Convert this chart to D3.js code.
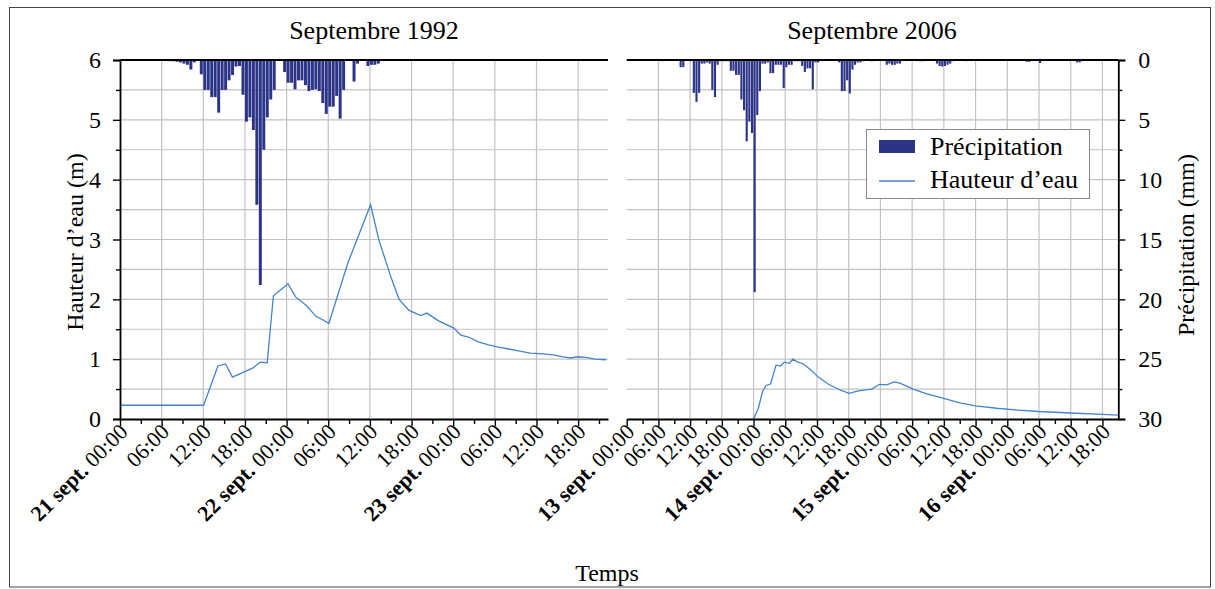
<!DOCTYPE html>
<html>
<head>
<meta charset="utf-8">
<script src="https://cdn.jsdelivr.net/npm/d3@7"></script>
<style>
  body { margin: 0; background: #fff; }
  svg { display: block; }
  text { font-family: "Liberation Serif", "Times New Roman", serif; fill: #000; }
</style>
</head>
<body>
<svg id="chart" width="1215" height="589"></svg>
<script>
// ---------------- DATA ----------------
const panelTitles = ["Septembre 1992", "Septembre 2006"];
const levelTicks = [0, 1, 2, 3, 4, 5, 6];
const rainTicks = [0, 5, 10, 15, 20, 25, 30];

// 1992 : 30-min precipitation (mm), first bin starts 21 sept. 07:00
const rain1992Start = "1992-09-21T07:00:00Z";
const rain1992 = [
  0.1, 0.1, 0.15, 0.2, 0.3, 0.4, 0.8, 0.2, 0, 1.2,
  2.5, 2.5, 3.1, 3.1, 4.4, 2.5, 2.5, 1.7, 1.25, 0.55,
  0.5, 2.9, 5.15, 4.8, 5.85, 12.1, 18.8, 7.5, 4.8, 3.3,
  2.5, 0, 0, 1.0, 1.9, 1.9, 2.45, 1.7, 1.7, 2.1,
  2.6, 2.5, 2.45, 2.6, 3.6, 4.5, 3.9, 3.9, 3.0, 4.9,
  2.5, 0, 0, 1.8, 0.3, 0, 0, 0.5, 0.4, 0.4, 0.3
];
// 1992 : water level (m), hours after 21 sept. 00:00
const level1992Hours = [0, 12.05, 14.1, 15.2, 16.2, 19.1, 20.2, 21.2, 22.1, 24.2, 25.3, 26.8, 28.2, 30.1, 32.8, 36.1,
  37.3, 39.0, 40.2, 41.6, 43.3, 44.2, 45.9, 48.1, 49.1, 50.2, 51.6, 53.1, 54.5, 56.0, 57.4, 59.1, 61.0, 62.4,
  63.8, 64.9, 66.0, 67.1, 68.4, 70.0];
const level1992 = [0.23, 0.23, 0.886, 0.92, 0.70, 0.85, 0.95, 0.94, 2.06, 2.26, 2.04, 1.9, 1.72, 1.6, 2.6, 3.58,
  2.99, 2.38, 2.0, 1.82, 1.73, 1.77, 1.64, 1.52, 1.40, 1.37, 1.29, 1.24, 1.2, 1.17, 1.14, 1.1, 1.09, 1.07,
  1.04, 1.02, 1.04, 1.03, 1.0, 0.99];

// 2006 : 30-min precipitation (mm), first bin starts 13 sept. 06:30
const rain2006Start = "2006-09-13T06:30:00Z";
const rain2006 = [
  0.1, 0, 0, 0, 0, 0, 0, 0.6, 0.6, 0, 0, 0,
  2.75, 3.5, 2.75, 0.3, 0.3, 0.2, 0.3, 2.5, 3.1, 0.4,
  0.1, 0.1, 0.1, 0.1, 0.9, 0.9, 1.25, 1.25, 3.3, 4.2,
  6.8, 5.15, 6.1, 19.4, 4.6, 2.6, 0.3, 0.3, 0.2, 1.1,
  1.1, 0.4, 0.4, 0.4, 2.35, 0.6, 0.4, 0.4, 0.1, 0.1,
  0.1, 0.5, 1.0, 0.7, 0.7, 2.45, 0.2, 0.2, 0, 0.05,
  0, 0, 0.05, 0, 0, 0.2, 2.6, 2.6, 1.7, 2.8,
  0.8, 0.4, 0.2, 0.2, 0.1, 0, 0, 0.1, 0.1, 0,
  0, 0, 0, 0.4, 0.3, 0.4, 0.4, 0.3, 0.3, 0,
  0, 0, 0, 0, 0, 0.1, 0.1, 0.1, 0, 0,
  0, 0, 0.3, 0.5, 0.55, 0.5, 0.4, 0.3, 0.1, 0,
  0, 0, 0, 0.1, 0, 0, 0, 0, 0, 0,
  0, 0, 0, 0, 0, 0, 0, 0, 0, 0,
  0, 0, 0, 0, 0, 0, 0.15, 0.15, 0, 0,
  0, 0.25, 0.1, 0, 0, 0, 0, 0, 0, 0,
  0, 0, 0, 0, 0, 0.2, 0.2, 0.1
];
// 2006 : water level (m), hours after 13 sept. 00:00
const level2006Hours = [24.0, 24.9, 25.7, 26.35, 27.2, 28.25, 29.1, 29.8, 30.8, 31.4, 32.2, 33.4, 34.7, 36.25, 38.1,
  40.35, 42.1, 43.8, 46.35, 47.8, 49.2, 50.6, 51.7, 54.2, 56.75, 59.3, 63, 66, 70, 74, 78, 84, 89, 93];
const level2006 = [0, 0.18, 0.46, 0.56, 0.585, 0.9, 0.885, 0.95, 0.93, 1.0, 0.96, 0.92, 0.83, 0.70, 0.585,
  0.485, 0.43, 0.47, 0.5, 0.58, 0.57, 0.62, 0.6, 0.5, 0.42, 0.36, 0.27, 0.22, 0.18, 0.15, 0.125, 0.1, 0.08, 0.065];

const legendLabels = ["Précipitation", "Hauteur d\u2019eau"];
const monthAbbr = "sept.";

// ---------------- LAYOUT ----------------
const barColor = "#2b3487";
const lineColor = "#4384cc";
const gridColor = "#c2c2c2";
const plotTop = 60, plotBottom = 419;
const HOUR = 3600e3;

const svg = d3.select("#chart");

// outer frame
svg.append("rect").attr("x", 9.5).attr("y", 7.5).attr("width", 1201).attr("height", 579.5)
  .attr("fill", "none").attr("stroke", "#444").attr("stroke-width", 1);

const yH = d3.scaleLinear().domain([0, 6]).range([plotBottom, plotTop]);
const yP = d3.scaleLinear().domain([0, 30]).range([plotTop, plotBottom]);

const panels = [
  {
    title: panelTitles[0], titleX: 374,
    start: Date.UTC(1992, 8, 21, 0), hours: 70.3, range: [120, 608],
    rainStart: new Date(rain1992Start).getTime(), rain: rain1992,
    lvlH: level1992Hours, lvl: level1992
  },
  {
    title: panelTitles[1], titleX: 872,
    start: Date.UTC(2006, 8, 13, 0), hours: 93, range: [626.7, 1118.3],
    rainStart: new Date(rain2006Start).getTime(), rain: rain2006,
    lvlH: level2006Hours, lvl: level2006
  }
];

panels.forEach((p, pi) => {
  const t0 = new Date(p.start), t1 = new Date(p.start + p.hours * HOUR);
  const x = d3.scaleUtc().domain([t0, t1]).range(p.range);
  const g = svg.append("g");
  const major = d3.utcHour.every(6).range(t0, t1);
  const minor = d3.utcHour.every(3).range(t0, t1).filter(d => d.getUTCHours() % 6 !== 0);

  // grid
  const grid = g.append("g").attr("stroke", gridColor).attr("stroke-width", 1.2);
  grid.selectAll("line.v").data(major.filter(d => +d !== +t0)).join("line").attr("class", "v")
    .attr("x1", d => x(d)).attr("x2", d => x(d)).attr("y1", plotTop).attr("y2", plotBottom);
  grid.selectAll("line.h").data(d3.range(1, 12).map(i => i * 0.5)).join("line").attr("class", "h")
    .attr("x1", p.range[0]).attr("x2", p.range[1]).attr("y1", d => yH(d)).attr("y2", d => yH(d));

  // precipitation bars
  const bars = p.rain.map((v, i) => ({ t: new Date(p.rainStart + i * 0.5 * HOUR), v }));
  g.append("g").selectAll("rect").data(bars.filter(d => d.v > 0)).join("rect")
    .attr("x", d => x(d.t))
    .attr("width", d => Math.max(0.5, x(new Date(+d.t + 0.5 * HOUR)) - x(d.t) - 0.5))
    .attr("y", yP(0))
    .attr("height", d => yP(d.v) - yP(0))
    .attr("fill", barColor);

  // water level line
  const pts = p.lvlH.map((h, i) => ({ t: new Date(p.start + h * HOUR), v: p.lvl[i] }));
  g.append("path").datum(pts)
    .attr("fill", "none").attr("stroke", lineColor).attr("stroke-width", 1.3)
    .attr("d", d3.line().x(d => x(d.t)).y(d => yH(d.v)));

  // x axis
  const ax = g.append("g").attr("transform", `translate(0,${plotBottom})`);
  ax.call(d3.axisBottom(x).tickValues(major).tickSizeInner(7).tickSizeOuter(0).tickFormat(() => ""));
  ax.append("g").call(d3.axisBottom(x).tickValues(minor).tickSize(5).tickFormat(() => ""))
    .select(".domain").remove();
  ax.selectAll("line").attr("stroke", "#000").attr("stroke-width", 1.4);
  ax.selectAll(".domain").attr("stroke", "#000").attr("stroke-width", 1.8);

  // x tick labels
  const lab = g.append("g").selectAll("text").data(major).join("text")
    .attr("text-anchor", "end")
    .attr("font-size", 22)
    .attr("transform", d => `translate(${x(d) + 9},${plotBottom + 14}) rotate(-45)`);
  lab.each(function (d) {
    const t = d3.select(this);
    if (d.getUTCHours() === 0) {
      t.append("tspan").attr("font-weight", "bold").text(d.getUTCDate() + " " + monthAbbr + " ");
    }
    t.append("tspan").text(d3.utcFormat("%H:%M")(d));
  });

  // top line
  g.append("line").attr("x1", p.range[0]).attr("x2", p.range[1]).attr("y1", plotTop).attr("y2", plotTop)
    .attr("stroke", "#000").attr("stroke-width", 1.8);

  // title
  svg.append("text").attr("x", p.titleX).attr("y", 39).attr("text-anchor", "middle")
    .attr("font-size", 26).text(p.title);

  if (pi === 0) {
    const ay = g.append("g").attr("transform", `translate(${p.range[0]},0)`);
    ay.call(d3.axisLeft(yH).tickValues(levelTicks).tickSize(7).tickPadding(12).tickFormat(d3.format("d")));
    ay.append("g").call(d3.axisLeft(yH).tickValues(d3.range(0.5, 6, 1)).tickSize(4).tickFormat(() => ""))
      .select(".domain").remove();
    ay.selectAll("line").attr("stroke", "#000").attr("stroke-width", 1.4);
    ay.selectAll(".domain").attr("stroke", "#000").attr("stroke-width", 1.8);
    ay.selectAll("text").attr("font-size", 24).attr("font-family", "Liberation Serif").attr("fill", "#000");
  } else {
    const ay = g.append("g").attr("transform", `translate(${p.range[1]},0)`);
    ay.call(d3.axisRight(yP).tickValues(rainTicks).tickSize(7).tickPadding(13).tickFormat(d3.format("d")));
    ay.append("g").call(d3.axisRight(yP).tickValues(d3.range(2.5, 30, 5)).tickSize(4).tickFormat(() => ""))
      .select(".domain").remove();
    ay.selectAll("line").attr("stroke", "#000").attr("stroke-width", 1.4);
    ay.selectAll(".domain").attr("stroke", "#000").attr("stroke-width", 1.8);
    ay.selectAll("text").attr("font-size", 24).attr("font-family", "Liberation Serif").attr("fill", "#000");
  }
});

// axis titles
svg.append("text").attr("transform", "translate(83,242) rotate(-90)").attr("text-anchor", "middle")
  .attr("font-size", 24).text("Hauteur d\u2019eau (m)");
svg.append("text").attr("transform", "translate(1194,245) rotate(-90)").attr("text-anchor", "middle")
  .attr("font-size", 24).text("Précipitation (mm)");
svg.append("text").attr("x", 607).attr("y", 581).attr("text-anchor", "middle")
  .attr("font-size", 24).text("Temps");

// legend
const lg = svg.append("g");
lg.append("rect").attr("x", 866.5).attr("y", 129.5).attr("width", 223).attr("height", 69)
  .attr("fill", "#fff").attr("stroke", "#888").attr("stroke-width", 1);
lg.append("rect").attr("x", 879).attr("y", 140).attr("width", 36).attr("height", 13).attr("fill", barColor);
lg.append("line").attr("x1", 879).attr("x2", 915).attr("y1", 181).attr("y2", 181)
  .attr("stroke", lineColor).attr("stroke-width", 1.3);
lg.append("text").attr("x", 930).attr("y", 155).attr("font-size", 26).text(legendLabels[0]);
lg.append("text").attr("x", 930).attr("y", 188).attr("font-size", 26).text(legendLabels[1]);
</script>
</body>
</html>
